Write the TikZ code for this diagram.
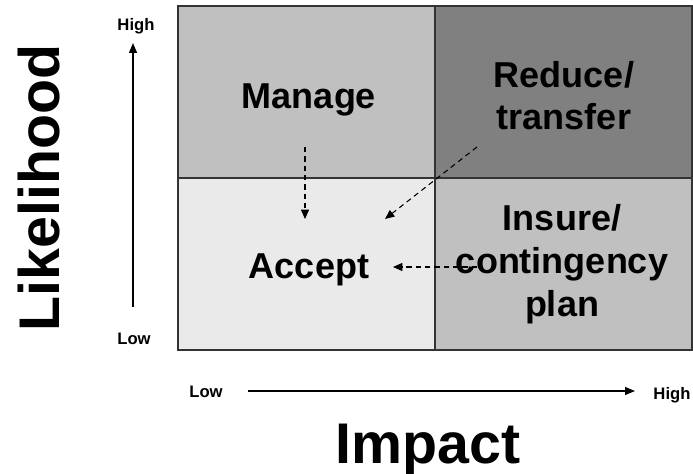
\documentclass[tikz,border=0pt]{standalone}
\usepackage{fontspec}
\setmainfont{Liberation Sans}
\usetikzlibrary{arrows.meta}
\definecolor{midgray}{HTML}{C0C0C0}
\definecolor{darkgray}{HTML}{808080}
\definecolor{lightgray}{HTML}{EAEAEA}
\tikzset{zone/.style={draw=black!80, line width=1pt}, hint/.style={dash pattern=on 4pt off 3pt, line width=.8pt, -{Triangle[length=7pt,width=6pt]}}, axis/.style={line width=.9pt, -{Triangle[length=7.5pt,width=6pt]}}}
\tikzset{big/.style={font=\bfseries\fontsize{27}{32}\selectfont, align=center, inner sep=0pt, anchor=base}, huge/.style={font=\bfseries\fontsize{43}{50}\selectfont, inner sep=0pt, anchor=base}, tick/.style={font=\bfseries\fontsize{12.5}{15}\selectfont, inner sep=0pt, anchor=base}}

\begin{document}
\begin{tikzpicture}[x=.75pt,y=-.75pt]
	\useasboundingbox (0,0) rectangle (693,474);
	
	% field
	\fill [midgray] (178,6) rectangle (435,178);
	\fill [darkgray] (435,6) rectangle (692,178);
	\fill [lightgray] (178,178) rectangle (435,350);
	\fill [midgray] (435,178) rectangle (692,350);
	\draw [zone] (178,6) rectangle (692,350);
	\draw [zone] (435,6) -- (435,350);
	\draw [zone] (178,178) -- (692,178);
	
	% zones (base = last line)
	\node (manage) [big] at (309,109) {Manage};
	\node (reduce) [big] at (564,130) {Reduce/\\transfer};
	\node (accept) [big] at (309,278) {Accept};
	\node (insure) [big] at (562,316) {Insure/\\contingency\\plan};
	
	% moves
	\coordinate (mgfrom) at (305,147);
	\coordinate (mgto) at (305,219);
	\coordinate (rdfrom) at (477,147);
	\coordinate (rdto) at (385,219);
	\coordinate (infrom) at (477,267);
	\coordinate (into) at (393,267);
	\draw [hint] (mgfrom) -- (mgto);
	\draw [hint] (rdfrom) -- (rdto);
	\draw [hint] (infrom) -- (into);
	
	% likelihood axis
	\node (lhigh) [tick] at (136,31) {High};
	\node (llow) [tick] at (134,344) {Low};
	\coordinate (lbot) at (133,307);
	\coordinate (ltop) at (133,43);
	\draw [axis] (lbot) -- (ltop);
	\node (lik) [huge, rotate=90] at (60,188) {Likelihood};
	
	% impact axis
	\node (ilow) [tick] at (206,397) {Low};
	\node (ihigh) [tick] at (672,399) {High};
	\coordinate (ileft) at (248,391);
	\coordinate (iright) at (635,391);
	\draw [axis] (ileft) -- (iright);
	\node (imp) [huge] at (428,463) {Impact};
\end{tikzpicture}
\end{document}
